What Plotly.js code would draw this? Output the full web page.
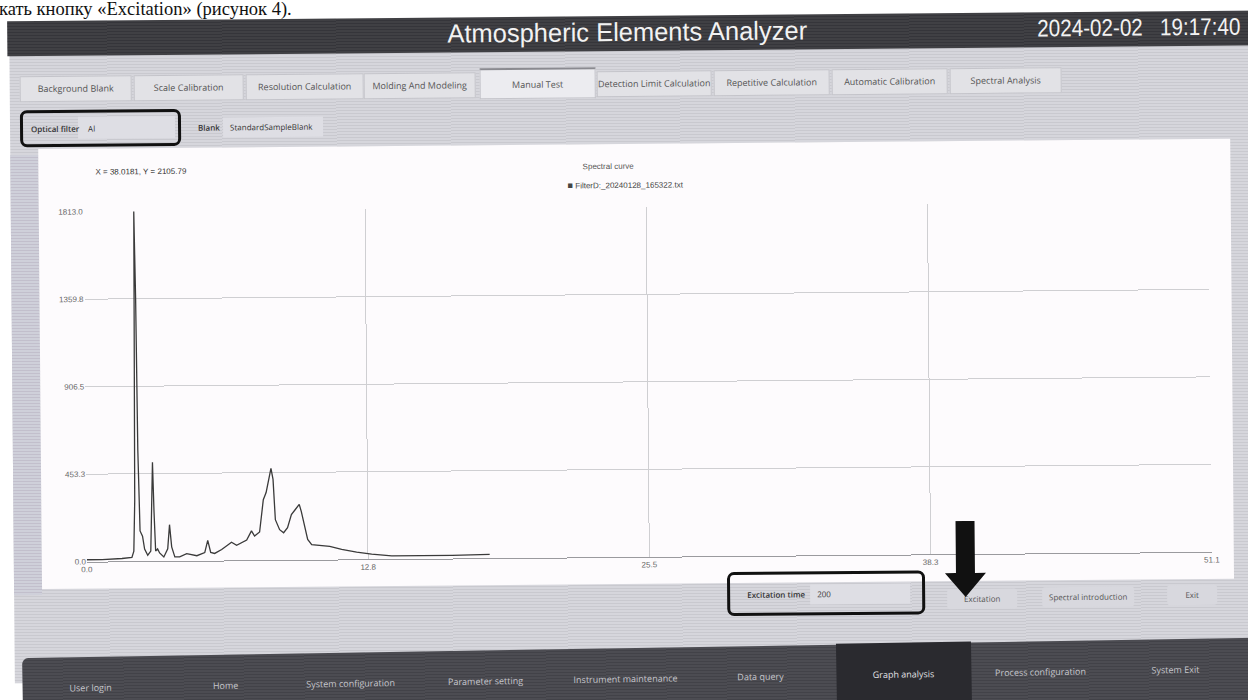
<!DOCTYPE html>
<html>
<head>
<meta charset="utf-8">
<script src="https://cdn.plot.ly/plotly-3.0.1.min.js"></script>
<style>
html,body{margin:0;padding:0;width:1248px;height:700px;overflow:hidden;background:#fff;}
#doctext{position:absolute;left:-1px;top:0px;font-family:"Liberation Serif",serif;font-size:18.5px;line-height:18px;color:#111;white-space:nowrap;}
#ui{position:absolute;left:0;top:0;width:1248px;height:700px;transform:rotate(-0.5deg);transform-origin:624px 350px;}
#gray{position:absolute;left:12px;top:48px;width:1260px;height:630px;
 background:repeating-linear-gradient(0deg,#d6d6dc 0px,#d6d6dc 2px,#c9c9cf 2px,#c9c9cf 3px);}
#strip{position:absolute;left:12px;top:150px;width:28px;height:440px;
 background:repeating-linear-gradient(0deg,#cfd0da 0px,#cfd0da 2px,#c2bfcc 2px,#c2bfcc 3px);}
#titlebar{position:absolute;left:10px;top:16px;width:1260px;height:35px;
 background:repeating-linear-gradient(0deg,#404044 0px,#404044 2px,#35353a 2px,#35353a 3px);}
#apptitle{position:absolute;left:630px;top:17px;transform:translateX(-50%) scaleX(0.98);font-family:"Liberation Sans",Arial,sans-serif;font-size:26px;color:#f2f2f2;white-space:nowrap;line-height:30px;}
#clock{position:absolute;left:1040px;top:17px;transform-origin:0 0;transform:scaleX(0.86);font-family:"Liberation Sans",Arial,sans-serif;font-size:24px;color:#f2f2f2;white-space:nowrap;line-height:30px;}
.tab{position:absolute;top:71px;height:26px;background:#e2e2e6;border:1px solid #c4c4ca;box-sizing:border-box;
 font-family:"Open Sans",sans-serif;font-size:9px;color:#555;line-height:24px;text-align:center;white-space:nowrap;overflow:hidden;}
.tab span{display:inline-block;margin:0 -40px;}
.tab.sel{top:67px;height:31px;background:#ececf0;border-top:2px solid #8a8a90;line-height:30px;}
#ofbox{position:absolute;left:22px;top:105px;width:161px;height:37px;border:3px solid #111;border-radius:7px;box-sizing:border-box;}
.lbl{position:absolute;font-family:"Open Sans",sans-serif;font-size:8px;color:#333;white-space:nowrap;}
.field{position:absolute;background:#dedee4;}
#chart{position:absolute;left:40px;top:144px;width:1192px;height:440px;}
#exbox{position:absolute;left:725px;top:573px;width:198px;height:44px;border:3px solid #111;border-radius:7px;box-sizing:border-box;}
.btn{position:absolute;height:20px;background:#d8d8de;border-radius:3px;font-family:"Open Sans",sans-serif;font-size:8px;color:#555;line-height:20px;text-align:center;white-space:nowrap;}
#nav{position:absolute;left:22px;top:648px;width:1250px;height:80px;transform:rotate(-0.95deg);transform-origin:614px 0px;
 background:repeating-linear-gradient(0deg,#4c4c52 0px,#4c4c52 2px,#424248 2px,#424248 3px);border-radius:6px 0 0 0;}
.nv{position:absolute;top:24px;transform:translateX(-50%);font-family:"Open Sans",sans-serif;font-size:9px;color:#c6c6cc;white-space:nowrap;}
#navsel{position:absolute;left:814px;top:-1px;width:135px;height:82px;background:#2a2a2f;}
</style>
</head>
<body>
<div id="doctext">кать кнопку «Excitation» (рисунок 4).</div>
<div id="ui">
  <div id="gray"></div>
  <div id="titlebar"></div>
  <div id="apptitle">Atmospheric Elements Analyzer</div>
  <div id="clock">2024-02-02&nbsp;&nbsp;&nbsp;19:17:40</div>

  <div class="tab" style="left:22px;width:112px;"><span>Background Blank</span></div>
  <div class="tab" style="left:136px;width:110px;"><span>Scale Calibration</span></div>
  <div class="tab" style="left:248px;width:118px;"><span>Resolution Calculation</span></div>
  <div class="tab" style="left:366px;width:112px;"><span>Molding And Modeling</span></div>
  <div class="tab sel" style="left:482px;width:116px;"><span>Manual Test</span></div>
  <div class="tab" style="left:599px;width:115px;"><span>Detection Limit Calculation</span></div>
  <div class="tab" style="left:716px;width:116px;"><span>Repetitive Calculation</span></div>
  <div class="tab" style="left:834px;width:116px;"><span>Automatic Calibration</span></div>
  <div class="tab" style="left:952px;width:112px;"><span>Spectral Analysis</span></div>

  <div class="field" style="left:80px;top:112px;width:97px;height:22px;"></div>
  <div id="ofbox"></div>
  <div class="lbl" style="left:33px;top:118px;font-weight:600;">Optical filter</div>
  <div class="lbl" style="left:90px;top:118px;">Al</div>
  <div class="field" style="left:225px;top:114px;width:100px;height:20px;"></div>
  <div class="lbl" style="left:200px;top:118px;font-weight:600;">Blank</div>
  <div class="lbl" style="left:232px;top:118px;">StandardSampleBlank</div>

  <div id="strip"></div>
  <div id="chart"></div>

  <div class="field" style="left:808px;top:586px;width:100px;height:20px;"></div>
  <div id="exbox"></div>
  <div class="lbl" style="left:745px;top:590px;font-weight:600;">Excitation time</div>
  <div class="lbl" style="left:815px;top:590px;">200</div>

  <div class="btn" style="left:945px;top:592px;width:70px;">Excitation</div>
  <div class="btn" style="left:1040px;top:591px;width:92px;">Spectral introduction</div>
  <div class="btn" style="left:1165px;top:590px;width:50px;">Exit</div>

  <svg style="position:absolute;left:940px;top:524px;" width="46" height="78">
    <polygon points="14,0 33,0 33,52 44,52 23.5,76 3,52 14,52" fill="#111"/>
  </svg>
</div>

<div id="nav">
  <div id="navsel"></div>
  <div class="nv" style="left:68px;">User login</div>
  <div class="nv" style="left:203px;">Home</div>
  <div class="nv" style="left:328px;">System configuration</div>
  <div class="nv" style="left:463px;">Parameter setting</div>
  <div class="nv" style="left:603px;">Instrument maintenance</div>
  <div class="nv" style="left:738px;">Data query</div>
  <div class="nv" style="left:881px;color:#e0e0e4;">Graph analysis</div>
  <div class="nv" style="left:1018px;">Process configuration</div>
  <div class="nv" style="left:1153px;">System Exit</div>
</div>

<script>
// Spectral curve data
const wavelength = [0, 0.7, 1.6, 2.05, 2.14, 2.2, 2.25, 2.27, 2.32, 2.36, 2.43, 2.54, 2.63, 2.77, 2.91, 2.97, 3.02, 3.07, 3.13, 3.22, 3.31, 3.5, 3.68, 3.77, 3.86, 4.0, 4.22, 4.54, 5.0, 5.36, 5.5, 5.63, 5.81, 6.13, 6.49, 6.58, 6.81, 7.27, 7.49, 7.63, 7.86, 8.04, 8.17, 8.31, 8.4, 8.49, 8.58, 8.77, 8.95, 9.13, 9.31, 9.49, 9.67, 9.76, 9.9, 10.04, 10.22, 10.68, 11.04, 11.58, 12.26, 12.94, 13.85, 15.2, 16.6, 18.3];
const intensity = [10, 10, 15, 20, 52, 313, 1358, 1813, 1358, 575, 157, 130, 63, 31, 52, 313, 512, 261, 52, 63, 42, 21, 63, 188, 73, 21, 21, 37, 26, 42, 105, 42, 37, 57, 84, 94, 78, 105, 152, 125, 146, 313, 350, 418, 475, 418, 209, 157, 141, 167, 235, 261, 287, 251, 183, 105, 78, 73, 68, 52, 37, 26, 16, 16, 16, 20];
const xTickVals = [0, 12.775, 25.55, 38.325, 51.1];
const xTickText = ["0.0", "12.8", "25.5", "38.3", "51.1"];
const yTickVals = [0, 453.25, 906.5, 1359.75, 1813];
const yTickText = ["0.0", "453.3", "906.5", "1359.8", "1813.0"];
const seriesName = "FilterD:_20240128_165322.txt";
const chartTitle = "Spectral curve";
const cursorText = "X = 38.0181, Y = 2105.79";

const trace = {
  x: wavelength, y: intensity, type: 'scatter', mode: 'lines',
  name: seriesName, line: {color: '#3a3a3a', width: 1.3}, showlegend: false, hoverinfo: 'x+y'
};
const layout = {
  width: 1192, height: 440,
  margin: {l: 45, r: 22, t: 63, b: 27},
  paper_bgcolor: '#fdfbfd', plot_bgcolor: '#fdfbfd',
  font: {family: 'Liberation Sans, Arial, sans-serif', size: 8, color: '#666'},
  title: {text: chartTitle, font: {size: 8, color: '#555'}, x: 0.478, xanchor: 'center', xref: 'container', y: 0.95, yref: 'container', yanchor: 'middle'},
  xaxis: {range: [0, 51.1], tickvals: xTickVals, ticktext: xTickText, showgrid: true, gridcolor: '#cfcfd2', gridwidth: 1,
          zeroline: false, showline: true, linecolor: '#9a9a9e', linewidth: 1, ticks: '', tickfont: {size: 8, color: '#666'}, fixedrange: true},
  yaxis: {range: [0, 1813], tickvals: yTickVals, ticktext: yTickText, showgrid: true, gridcolor: '#cfcfd2', gridwidth: 1,
          zeroline: false, showline: false, ticks: '', tickfont: {size: 8, color: '#666'}, fixedrange: true},
  annotations: [
    {text: cursorText, xref: 'paper', yref: 'paper', x: 0.009, y: 1.114, xanchor: 'left', yanchor: 'middle', showarrow: false, font: {size: 8, color: '#333'}},
    {text: '<span style="font-size:9px">■</span> ' + seriesName, xref: 'paper', yref: 'paper', x: 0.482, y: 1.063, xanchor: 'center', yanchor: 'middle', showarrow: false, font: {size: 8, color: '#444'}}
  ]
};
Plotly.newPlot('chart', [trace], layout, {displayModeBar: false, staticPlot: false});
</script>
</body>
</html>
